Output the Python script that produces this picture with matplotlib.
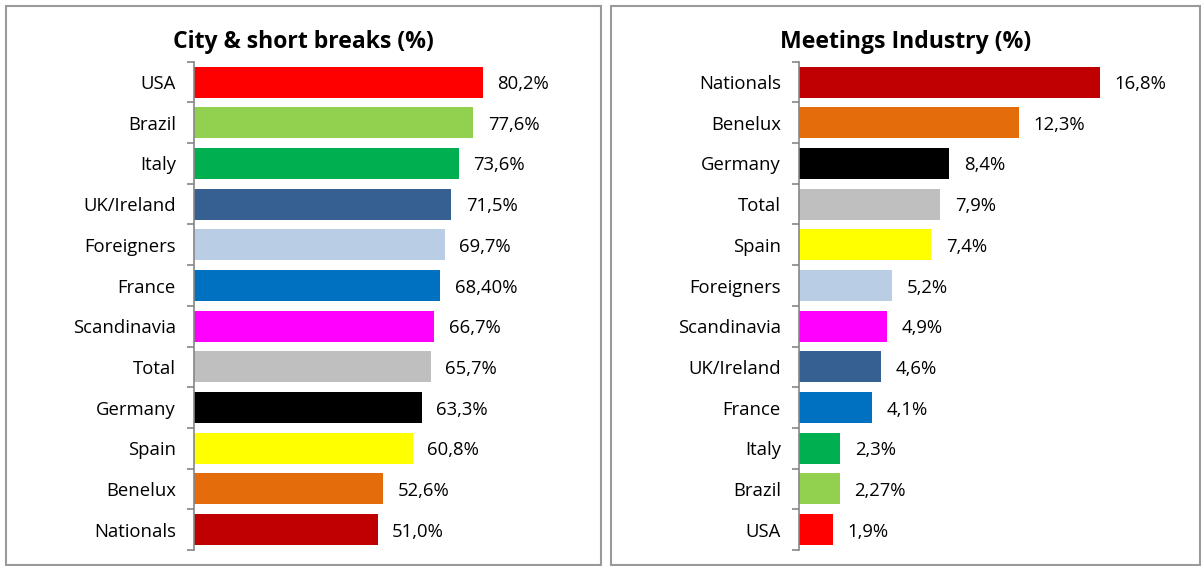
import matplotlib
matplotlib.use("Agg")
import matplotlib.pyplot as plt
from matplotlib.patches import Rectangle

plt.rcParams['font.family'] = ['Open Sans', 'DejaVu Sans']

left_title = "City & short breaks (%)"
left_cats = ["USA", "Brazil", "Italy", "UK/Ireland", "Foreigners", "France",
             "Scandinavia", "Total", "Germany", "Spain", "Benelux", "Nationals"]
left_vals = [80.2, 77.6, 73.6, 71.5, 69.7, 68.4, 66.7, 65.7, 63.3, 60.8, 52.6, 51.0]
left_labels = ["80,2%", "77,6%", "73,6%", "71,5%", "69,7%", "68,40%", "66,7%",
               "65,7%", "63,3%", "60,8%", "52,6%", "51,0%"]

right_title = "Meetings Industry (%)"
right_cats = ["Nationals", "Benelux", "Germany", "Total", "Spain", "Foreigners",
              "Scandinavia", "UK/Ireland", "France", "Italy", "Brazil", "USA"]
right_vals = [16.8, 12.3, 8.4, 7.9, 7.4, 5.2, 4.9, 4.6, 4.1, 2.3, 2.27, 1.9]
right_labels = ["16,8%", "12,3%", "8,4%", "7,9%", "7,4%", "5,2%", "4,9%",
                "4,6%", "4,1%", "2,3%", "2,27%", "1,9%"]

colors = {
    "USA": "#FF0000", "Brazil": "#92D050", "Italy": "#00B050",
    "UK/Ireland": "#376092", "Foreigners": "#B9CDE5", "France": "#0070C0",
    "Scandinavia": "#FF00FF", "Total": "#BFBFBF", "Germany": "#000000",
    "Spain": "#FFFF00", "Benelux": "#E46C0A", "Nationals": "#C00000",
}

W, H = 1201, 566
fig = plt.figure(figsize=(W / 100, H / 100), dpi=100)

# panel borders
for (x0, x1) in [(6, 601), (611, 1200)]:
    fig.patches.append(Rectangle((x0 / W, 1 / H), (x1 - x0) / W, (H - 7) / H,
                                 transform=fig.transFigure, fill=False,
                                 edgecolor="#9a9a9a", linewidth=1.5))


def panel(ax_left_px, px_per_unit, xmax, cats, vals, labels, title, title_x):
    top, bottom = 61.7, 550.0
    width_px = px_per_unit * xmax
    ax = fig.add_axes([ax_left_px / W, (H - bottom) / H, width_px / W, (bottom - top) / H])
    n = len(cats)
    ypos = list(range(n))
    ax.barh(ypos, vals, height=0.76, color=[colors[c] for c in cats], zorder=2)
    ax.set_ylim(n - 0.5, -0.5)
    ax.set_xlim(0, xmax)
    ax.set_yticks(ypos)
    ax.set_yticklabels(cats, fontsize=13.3, color="#000000", va='center_baseline')
    ax.set_yticks([i - 0.5 for i in range(n + 1)], minor=True)
    ax.tick_params(axis='y', which='major', length=0, pad=13)
    ax.tick_params(axis='y', which='minor', length=5, width=1.2, color="#868686")
    ax.tick_params(axis='x', bottom=False, labelbottom=False)
    for s in ['top', 'right', 'bottom']:
        ax.spines[s].set_visible(False)
    ax.spines['left'].set_color("#868686")
    ax.spines['left'].set_linewidth(1.2)
    offset = 14.5 / px_per_unit
    for y, v, lab in zip(ypos, vals, labels):
        ax.text(v + offset, y, lab, va='center_baseline', ha='left', fontsize=13.3,
                color="#000000")
    fig.text(title_x / W, (H - 42) / H, title, ha='center', va='center',
             fontsize=16.6, fontweight='bold')
    return ax


panel(194, 3.6, 90, left_cats, left_vals, left_labels, left_title, 303)
panel(799, 17.9, 20, right_cats, right_vals, right_labels, right_title, 906)

fig.savefig("out.png", dpi=100)
